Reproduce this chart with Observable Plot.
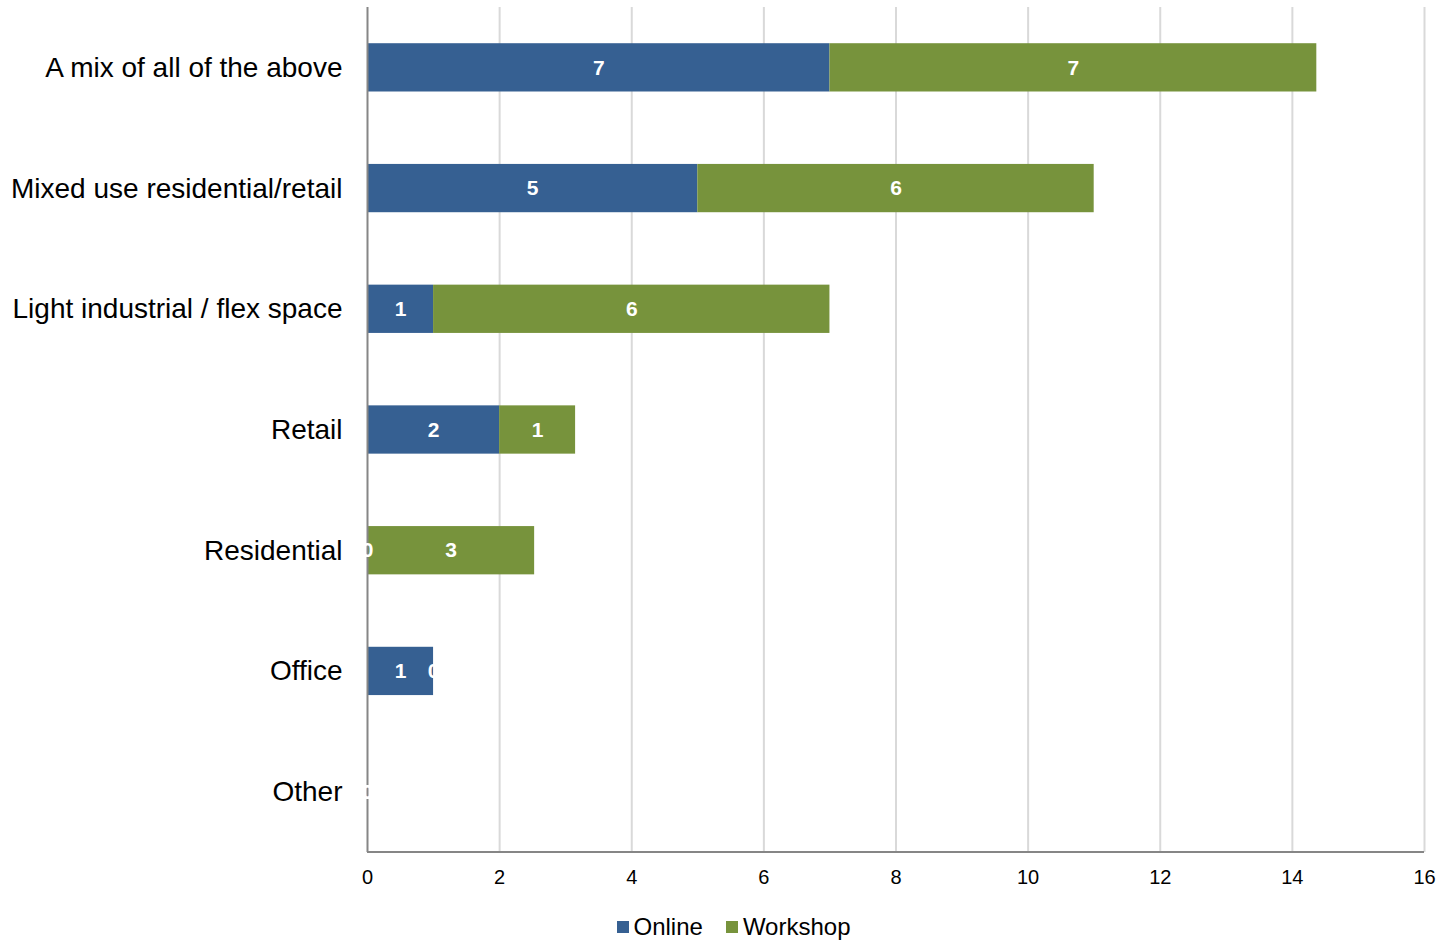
<!DOCTYPE html>
<html>
<head>
<meta charset="utf-8">
<script src="https://cdn.jsdelivr.net/npm/d3@7"></script>
<script src="https://cdn.jsdelivr.net/npm/@observablehq/plot@0.6"></script>
<style>
  html, body { margin: 0; padding: 0; background: #fff; }
  body { width: 1441px; height: 940px; font-family: "Liberation Sans", Arial, sans-serif; overflow: hidden; }
  #chart svg { display: block; }
  #legend { display: flex; justify-content: center; align-items: center; gap: 23px; font-size: 24px; color: #000; height: 40px; margin-left: 26px; }
  #legend .item { display: flex; align-items: center; }
  #legend .sw { width: 12px; height: 12px; margin-right: 5px; }
</style>
</head>
<body>
<div id="chart"></div>
<div id="legend"></div>
<script>
const categories = ["A mix of all of the above", "Mixed use residential/retail", "Light industrial / flex space", "Retail", "Residential", "Office", "Other"];
const online = [7, 5, 1, 2, 0, 1, 0];
const workshop = [7.37, 6, 6, 1.15, 2.53, 0, 0];
const series = ["Online", "Workshop"];
const colors = ["#366092", "#77933C"];
const xTicks = [0, 2, 4, 6, 8, 10, 12, 14, 16];

const rows = [];
categories.forEach((c, i) => {
  rows.push({category: c, series: "Online", value: online[i]});
  rows.push({category: c, series: "Workshop", value: workshop[i]});
});

const chart = Plot.plot({
  width: 1441,
  height: 907,
  marginLeft: 367,
  marginRight: 17,
  marginTop: 7,
  marginBottom: 55,
  style: {fontFamily: "'Liberation Sans', Arial, sans-serif", background: "#fff"},
  x: {domain: [0, 16], ticks: xTicks, label: null},
  y: {domain: categories, paddingInner: 0.6, paddingOuter: 0.3, round: false, label: null},
  color: {domain: series, range: colors},
  marks: [
    Plot.ruleX(xTicks.filter(d => d > 0), {stroke: "#d9d9d9", strokeWidth: 2}),
    Plot.barX(rows, Plot.stackX({x: "value", y: "category", fill: "series", order: series})),
    Plot.ruleX([0], {stroke: "#868686", strokeWidth: 2}),
    Plot.textX(rows, Plot.stackX({x: "value", y: "category", z: "series", order: series,
      text: d => d3.format(".0f")(d.value), fill: "white", fontWeight: "bold", fontSize: 21})),
    Plot.axisX({ticks: xTicks, tickSize: 0, tickPadding: 17, fontSize: 20, fill: "#000", label: null}),
    Plot.axisY({tickSize: 0, tickPadding: 25, fontSize: 28, fill: "#000", label: null})
  ]
});
document.getElementById("chart").appendChild(chart);

// bottom axis line
const svg = d3.select(chart);
svg.append("line")
  .attr("x1", 367).attr("x2", 1424)
  .attr("y1", 852).attr("y2", 852)
  .attr("stroke", "#868686").attr("stroke-width", 2);

const legend = document.getElementById("legend");
series.forEach((s, i) => {
  const item = document.createElement("div");
  item.className = "item";
  item.innerHTML = `<span class="sw" style="background:${colors[i]}"></span><span>${s}</span>`;
  legend.appendChild(item);
});
</script>
</body>
</html>
